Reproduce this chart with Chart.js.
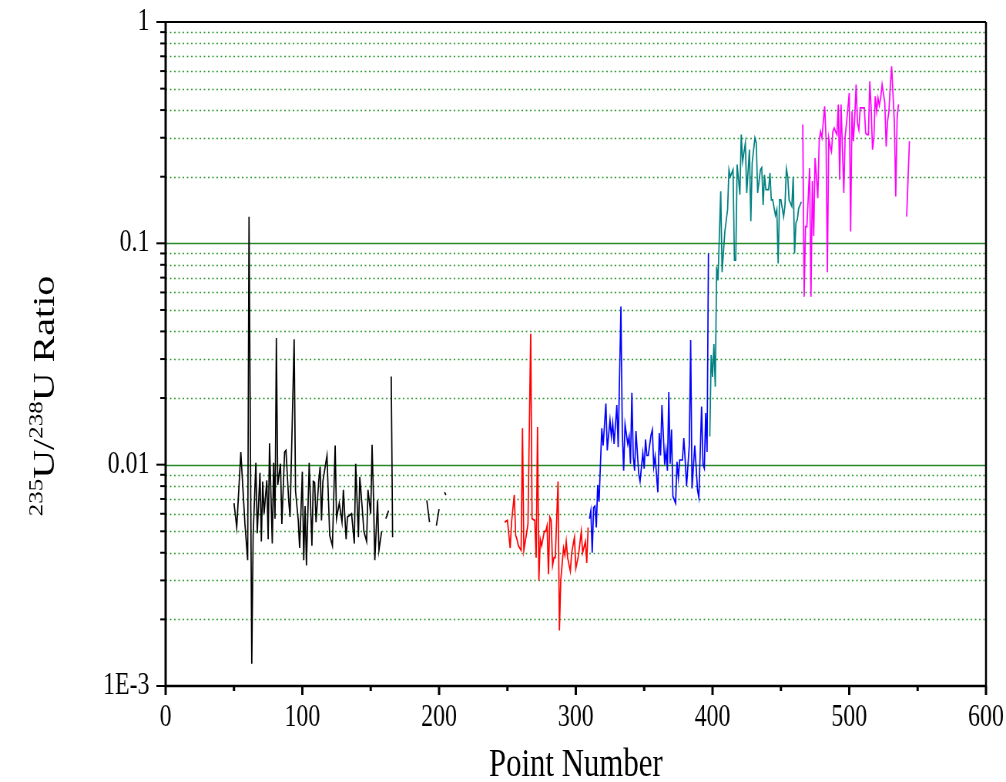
<!DOCTYPE html>
<html>
<head>
<meta charset="utf-8">
<script src="https://cdn.jsdelivr.net/npm/chart.js@4"></script>
<style>
  html, body { margin: 0; padding: 0; background: #fff; overflow: hidden; }
  #chart { display: block; }
</style>
</head>
<body>
<!-- the original export is squeezed horizontally, so the canvas is drawn wider and shown at 1006px -->
<canvas id="chart" width="1306" height="782" style="width:1006px;height:782px"></canvas>
<script>
// 235U/238U ratio per point number, one run per colour (null = gap)
var blackX = [50,52,55,58,60,61,63,64,66,67,69,70,71,72,74,75,76,78,79,80,81,82,84,85,87,88,90,91,94,95,97,98,100,101,102,103,105,107,108,109,110,112,113,114,115,118,120,122,124,125,127,129,130,132,133,136,138,139,141,142,144,145,147,148,150,151,152,153,155,156,158,160,161,162,163,164,165,166,180,191,193,196,198,200,202,204,205];
var blackY = [0.0067,0.0052,0.0114,0.0054,0.0037,0.132,0.00126,0.0048,0.0102,0.0049,0.0092,0.0045,0.0084,0.0060,0.0085,0.0046,0.0125,0.0044,0.0102,0.0057,0.0373,0.0081,0.0101,0.0054,0.0114,0.0116,0.0069,0.0058,0.0369,0.0076,0.0056,0.0042,0.0093,0.0037,0.0065,0.0035,0.0102,0.0043,0.0084,0.0083,0.0055,0.0085,0.0098,0.0056,0.0084,0.0110,0.0048,0.0043,0.0122,0.0057,0.0067,0.0055,0.0077,0.0046,0.0058,0.0060,0.0044,0.0101,0.0047,0.0088,0.0061,0.0050,0.0045,0.0077,0.0060,0.0123,0.0072,0.0037,0.0069,0.0041,0.0050,null,0.0057,0.0059,0.0062,null,0.025,0.0047,null,0.0069,0.0055,null,0.0053,0.0063,null,0.0075,0.0073];

var redX = [248,250,252,253,255,256,257,258,260,261,262,264,265,267,268,270,271,272,273,274,275,277,278,279,280,281,282,283,284,285,287,288,289,291,292,293,294,296,297,299,300,302,304,305,307,308,309];
var redY = [0.0055,0.0056,0.0042,0.0055,0.0073,0.0048,0.0046,0.0043,0.0041,0.0146,0.0041,0.0049,0.0054,0.039,0.0057,0.0056,0.0038,0.0148,0.0030,0.0046,0.0043,0.0050,0.0050,0.0053,0.0032,0.0058,0.0056,0.0035,0.0038,0.0038,0.0084,0.00178,0.0030,0.0042,0.0039,0.0045,0.0038,0.0033,0.0040,0.0047,0.0034,0.0039,0.0050,0.0040,0.0045,0.0036,0.0052];

var blueX = [310,311,312,313,314,315,316,317,319,320,322,323,325,326,327,328,330,331,333,334,335,336,338,339,340,341,342,343,344,346,347,349,350,351,352,353,355,356,357,358,360,361,362,363,365,366,367,368,369,370,371,373,374,375,376,378,379,380,381,383,384,385,387,388,389,390,392,393,394,395,396,397];
var blueY = [0.0057,0.0062,0.0040,0.0064,0.0065,0.0052,0.0081,0.0068,0.0146,0.0122,0.0189,0.0116,0.0159,0.0134,0.0154,0.0124,0.0186,0.0120,0.0518,0.0141,0.0094,0.0152,0.0124,0.0134,0.0101,0.0211,0.0109,0.0094,0.0142,0.0091,0.0084,0.0113,0.0096,0.0130,0.0110,0.0110,0.0136,0.0144,0.0098,0.0109,0.0075,0.0139,0.0110,0.0186,0.0100,0.0116,0.0094,0.0213,0.0101,0.0144,0.0072,0.0067,0.0103,0.0087,0.0105,0.0105,0.0132,0.0105,0.0080,0.0122,0.0366,0.0078,0.0122,0.0098,0.0077,0.0071,0.0183,0.0100,0.0096,0.0171,0.0114,0.090];

var tealX = [398,399,400,401,402,403,404,406,407,409,411,412,413,415,416,417,418,420,421,422,424,425,427,428,429,431,432,433,435,436,437,438,439,441,442,443,444,446,447,448,449,450,452,453,454,455,456,458,459,460,461,462,463,465];
var tealY = [0.0134,0.0313,0.0249,0.0351,0.0225,0.0785,0.068,0.172,0.074,0.113,0.142,0.215,0.200,0.215,0.084,0.084,0.227,0.166,0.310,0.234,0.284,0.169,0.265,0.126,0.231,0.299,0.284,0.169,0.215,0.220,0.149,0.204,0.175,0.175,0.208,0.157,0.157,0.134,0.142,0.081,0.157,0.157,0.132,0.149,0.217,0.200,0.157,0.147,0.200,0.090,0.124,0.128,0.144,0.154];

var magentaX = [466,467,468,469,471,472,473,474,475,476,477,478,479,480,482,483,484,485,486,487,488,489,490,491,492,493,494,496,497,498,500,501,502,503,504,505,506,507,508,509,511,512,513,514,515,516,517,518,519,520,521,522,523,524,526,527,528,529,530,531,533,534,535,536,539,542,544];
var magentaY = [0.344,0.0574,0.119,0.119,0.219,0.0574,0.191,0.108,0.243,0.200,0.160,0.289,0.320,0.300,0.416,0.300,0.0741,0.299,0.274,0.260,0.320,0.332,0.320,0.310,0.424,0.194,0.424,0.169,0.304,0.350,0.478,0.113,0.395,0.289,0.370,0.522,0.350,0.326,0.409,0.409,0.409,0.315,0.310,0.310,0.540,0.409,0.265,0.300,0.462,0.395,0.455,0.420,0.455,0.522,0.431,0.274,0.356,0.395,0.512,0.631,0.350,0.163,0.368,0.424,null,0.132,0.289];

var xTicks = [0, 100, 200, 300, 400, 500, 600];
var yTicks = [0.001, 0.01, 0.1, 1];
var yTickLabels = ['1E-3', '0.01', '0.1', '1'];

function pairs(xs, ys) {
    return xs.map(function (x, i) { return { x: x, y: ys[i] }; });
}

function run(xs, ys, color) {
    return {
        data: pairs(xs, ys),
        borderColor: color,
        borderWidth: 1.7,
        pointRadius: 0,
        spanGaps: false,
        tension: 0
    };
}

// frame, ticks, green grid and the two axis titles, Origin style
var originFrame = {
    id: 'originFrame',
    beforeDatasetsDraw: function (chart) {
        var ctx = chart.ctx, a = chart.chartArea, y = chart.scales.y;
        ctx.save();
        ctx.strokeStyle = '#2f9a2f';
        ctx.lineWidth = 1.5;
        ctx.setLineDash([2, 3.5]);
        for (var d = -3; d < 0; d++) {
            for (var m = 2; m <= 9; m++) {
                var py = Math.round(y.getPixelForValue(m * Math.pow(10, d))) + 0.5;
                ctx.beginPath(); ctx.moveTo(a.left, py); ctx.lineTo(a.right, py); ctx.stroke();
            }
        }
        ctx.setLineDash([]);
        ctx.strokeStyle = '#2a8a2a';
        [0.01, 0.1].forEach(function (v) {
            var py = Math.round(y.getPixelForValue(v)) + 0.5;
            ctx.beginPath(); ctx.moveTo(a.left, py); ctx.lineTo(a.right, py); ctx.stroke();
        });
        ctx.restore();
    },
    afterDraw: function (chart) {
        var ctx = chart.ctx, a = chart.chartArea, x = chart.scales.x, y = chart.scales.y;
        ctx.save();
        ctx.strokeStyle = '#000';
        // box
        ctx.lineWidth = 2;
        ctx.beginPath(); ctx.moveTo(a.left, a.top); ctx.lineTo(a.right, a.top); ctx.stroke();
        ctx.lineWidth = 2.5;
        ctx.beginPath(); ctx.moveTo(a.right, a.top); ctx.lineTo(a.right, a.bottom); ctx.stroke();
        ctx.lineWidth = 3;
        ctx.beginPath(); ctx.moveTo(a.left, a.top - 1); ctx.lineTo(a.left, a.bottom + 1); ctx.stroke();
        ctx.lineWidth = 2.5;
        ctx.beginPath(); ctx.moveTo(a.left - 1, a.bottom); ctx.lineTo(a.right + 1, a.bottom); ctx.stroke();
        // y ticks, outward
        ctx.lineWidth = 2;
        for (var d = -3; d <= 0; d++) {
            for (var m = 1; m <= 9; m++) {
                var v = m * Math.pow(10, d);
                if (v > 1) break;
                var py = y.getPixelForValue(v);
                var len = m === 1 ? 12 : 7;
                ctx.beginPath(); ctx.moveTo(a.left - len, py); ctx.lineTo(a.left, py); ctx.stroke();
            }
        }
        // x ticks, outward
        ctx.lineWidth = 3;
        for (var t = 0; t <= 600; t += 50) {
            var px = x.getPixelForValue(t);
            var l = t % 100 === 0 ? 9 : 5;
            ctx.beginPath(); ctx.moveTo(px, a.bottom); ctx.lineTo(px, a.bottom + l); ctx.stroke();
        }
        // x title
        ctx.fillStyle = '#000';
        ctx.font = '40px "Liberation Serif"';
        ctx.textAlign = 'center';
        ctx.textBaseline = 'middle';
        ctx.fillText('Point Number', (a.left + a.right) / 2, 765);
        // y title with superscript mass numbers
        var parts = [['235', true], ['U/', false], ['238', true], ['U Ratio', false]];
        var big = '40px "Liberation Serif"', small = '25px "Liberation Serif"';
        var total = 0;
        parts.forEach(function (p) { ctx.font = p[1] ? small : big; total += ctx.measureText(p[0]).width; });
        ctx.translate(70, 396);
        ctx.rotate(-Math.PI / 2);
        ctx.textAlign = 'left';
        ctx.textBaseline = 'alphabetic';
        var cx = -total / 2;
        parts.forEach(function (p) {
            ctx.font = p[1] ? small : big;
            ctx.fillText(p[0], cx, p[1] ? -15 : 0);
            cx += ctx.measureText(p[0]).width;
        });
        ctx.restore();
    }
};

Chart.defaults.font.family = '"Liberation Serif", "Times New Roman", serif';
Chart.defaults.color = '#000';

new Chart(document.getElementById('chart'), {
    type: 'line',
    data: {
        datasets: [
            run(blackX, blackY, '#000000'),
            run(redX, redY, '#ff0000'),
            run(blueX, blueY, '#0000ff'),
            run(tealX, tealY, '#008080'),
            run(magentaX, magentaY, '#ff00ff')
        ]
    },
    options: {
        responsive: false,
        animation: false,
        devicePixelRatio: 1,
        layout: { padding: { top: 22, right: 26, left: 0, bottom: 0 } },
        plugins: { legend: { display: false }, tooltip: { enabled: false } },
        scales: {
            x: {
                type: 'linear',
                min: 0,
                max: 600,
                grid: { display: false, drawTicks: false },
                border: { display: false },
                afterBuildTicks: function (s) { s.ticks = xTicks.map(function (v) { return { value: v }; }); },
                // small padding + tall line box keeps the labels low without eating the right margin
                ticks: { padding: 2, font: { size: 31, lineHeight: 1.91 }, color: '#000', maxRotation: 0 },
                afterFit: function (s) { s.height = 96; }
            },
            y: {
                type: 'logarithmic',
                min: 0.001,
                max: 1,
                grid: { display: false, drawTicks: false },
                border: { display: false },
                afterBuildTicks: function (s) { s.ticks = yTicks.map(function (v) { return { value: v }; }); },
                ticks: {
                    autoSkip: false,
                    padding: 21,
                    font: { size: 31, lineHeight: 0.01 },
                    color: '#000',
                    callback: function (v) {
                        var i = yTicks.findIndex(function (t) { return Math.abs(t - v) / t < 1e-6; });
                        return i < 0 ? '' : yTickLabels[i];
                    }
                },
                afterFit: function (s) { s.width = 215; }
            }
        }
    },
    plugins: [originFrame]
});
</script>
</body>
</html>
